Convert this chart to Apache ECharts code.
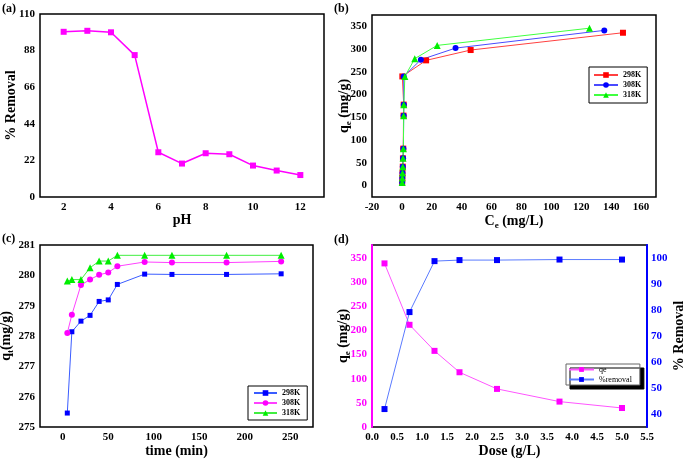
<!DOCTYPE html>
<html>
<head>
<meta charset="utf-8">
<script src="https://cdn.jsdelivr.net/npm/echarts@6/dist/echarts.min.js"></script>
<style>
  body { margin: 0; background: #fff; }
  .p { position: absolute; }
</style>
</head>
<body>
<div id="pa" class="p" style="left:0;top:0;width:330px;height:230px"></div>
<div id="pb" class="p" style="left:330px;top:0;width:355px;height:230px"></div>
<div id="pc" class="p" style="left:0;top:230px;width:330px;height:229px"></div>
<div id="pd" class="p" style="left:330px;top:230px;width:355px;height:229px"></div>
<script>
// (a) pH effect
const phValues = [2, 3, 4, 5, 6, 7, 8, 9, 10, 11, 12]
const removalPh = [99.3, 99.9, 99.0, 85.3, 26.9, 20.1, 26.3, 25.7, 18.9, 15.9, 13.2]

// (b) isotherms
const ce298 = [0.2, 0.3, 0.4, 0.6, 0.7, 0.9, 1.1, 1.2, 0.3, 16.2, 46.0, 147.9]
const qe298 = [6.6, 16.7, 27.7, 41.7, 60.0, 81.3, 153.8, 178.0, 240.0, 275.3, 298.0, 336.0]
const ce308 = [0.2, 0.3, 0.4, 0.6, 0.8, 1.0, 1.2, 1.3, 1.2, 12.7, 35.9, 135.4]
const qe308 = [6.6, 16.7, 27.7, 41.7, 60.0, 81.3, 153.8, 178.0, 240.0, 276.8, 302.3, 341.2]
const ce318 = [0.2, 0.3, 0.4, 0.6, 0.8, 1.0, 1.2, 1.3, 2.0, 8.6, 23.6, 125.5]
const qe318 = [6.6, 16.7, 27.7, 41.7, 60.0, 81.3, 153.8, 178.0, 240.0, 279.0, 308.2, 346.0]

// (c) kinetics
const timeMin = [5, 10, 20, 30, 40, 50, 60, 90, 120, 180, 240]
const qt298 = [275.46, 278.14, 278.49, 278.68, 279.14, 279.19, 279.70, 280.04, 280.03, 280.03, 280.05]
const qt308 = [278.10, 278.70, 279.68, 279.86, 280.02, 280.09, 280.30, 280.44, 280.42, 280.42, 280.46]
const qt318 = [279.81, 279.86, 279.86, 280.25, 280.47, 280.47, 280.66, 280.66, 280.66, 280.66, 280.66]

// (d) dose effect
const dose = [0.25, 0.75, 1.25, 1.75, 2.5, 3.75, 5.0]
const qeDose = [338.9, 211.7, 157.7, 113.4, 78.9, 52.6, 39.4]
const removalDose = [41.9, 79.2, 98.8, 99.2, 99.2, 99.4, 99.4]

const F = 'Liberation Serif'
const lab = { fontFamily: F, fontWeight: 'bold', fontSize: 11, color: '#000' }
const nm = { fontFamily: F, fontWeight: 'bold', fontSize: 14, color: '#000' }
const zip = (xs, ys) => xs.map((x, i) => [x, ys[i]])
const box = { show: true, borderColor: '#000', borderWidth: 1.5, outerBoundsMode: 'none', containLabel: false }
const off = { axisLine: { show: false }, axisTick: { show: false }, splitLine: { show: false }, nameMoveOverlap: false }
const ttl = (t, left, top) => ({ text: t, left, top, padding: 0, textStyle: { fontFamily: F, fontWeight: 'bold', fontSize: 12, color: '#000' } })
const subName = () => ({
  rich: {
    a: { fontFamily: F, fontWeight: 'bold', fontSize: 14, color: '#000' },
    s: { fontFamily: F, fontWeight: 'bold', fontSize: 9, color: '#000', verticalAlign: 'bottom', padding: [8, 0, 0, 0] }
  }
})
const legText = { fontFamily: F, fontWeight: 'bold', fontSize: 8, lineHeight: 10, color: '#000' }

function line(name, data, sym, size, color, lineColor, yIdx) {
  return {
    type: 'line', name, data, symbol: sym, symbolSize: size, yAxisIndex: yIdx || 0,
    itemStyle: { color }, lineStyle: { color: lineColor, width: 1 }
  }
}

// (a)
echarts.init(document.getElementById('pa')).setOption({
  animation: false,
  title: ttl('(a)', 2, 3),
  grid: Object.assign({ left: 40, top: 14, width: 284, height: 183 }, box),
  xAxis: Object.assign({
    type: 'value', min: 1, max: 13, interval: 1, name: 'pH', nameLocation: 'middle', nameGap: 16,
    nameTextStyle: nm,
    axisLabel: Object.assign({ margin: 5, formatter: v => (v % 2 === 0 && v >= 2 && v <= 12) ? v : '' }, lab)
  }, off),
  yAxis: Object.assign({
    type: 'value', min: 0, max: 110, interval: 22, name: '% Removal', nameLocation: 'middle', nameGap: 22,
    nameTextStyle: nm, axisLabel: Object.assign({ margin: 5 }, lab)
  }, off),
  series: [{
    type: 'line', data: zip(phValues, removalPh), symbol: 'rect', symbolSize: 6,
    itemStyle: { color: '#ff00ff' }, lineStyle: { color: '#ff00ff', width: 1.5 }
  }]
})

// (b)
echarts.init(document.getElementById('pb')).setOption({
  animation: false,
  title: ttl('(b)', 4, 3),
  grid: Object.assign({ left: 42, top: 15, width: 284, height: 182 }, box),
  legend: {
    left: 259, top: 67, orient: 'vertical', itemGap: 0, itemWidth: 24, itemHeight: 7,
    padding: [3, 6, 3, 4], borderColor: '#000', borderWidth: 1,
    textStyle: legText,
    data: ['298K', '308K', '318K']
  },
  xAxis: Object.assign({
    type: 'value', min: -20, max: 170, interval: 10, nameLocation: 'middle', nameGap: 16,
    name: '{a|C}{s|e}{a| (mg/L)}', nameTextStyle: subName(),
    axisLabel: Object.assign({ margin: 5, formatter: v => (v % 20 === 0 && v <= 160) ? v : '' }, lab)
  }, off),
  yAxis: Object.assign({
    type: 'value', min: -25, max: 375, interval: 25, nameLocation: 'middle', nameGap: 19,
    name: '{a|q}{s|e}{a| (mg/g)}', nameTextStyle: subName(),
    axisLabel: Object.assign({ margin: 5, formatter: v => (v % 50 === 0 && v >= 0 && v <= 350) ? v : '' }, lab)
  }, off),
  series: [
    line('298K', zip(ce298, qe298), 'rect', 6, '#ff0000', '#ff4040'),
    line('308K', zip(ce308, qe308), 'circle', 6, '#0000ff', '#4a4aff'),
    line('318K', zip(ce318, qe318), 'triangle', 7, '#00ee00', '#40ff40')
  ]
})

// (c)
echarts.init(document.getElementById('pc')).setOption({
  animation: false,
  title: ttl('(c)', 2, 3),
  grid: Object.assign({ left: 40, top: 15, width: 273, height: 182 }, box),
  legend: {
    left: 248, top: 156, orient: 'vertical', itemGap: 0, itemWidth: 23, itemHeight: 7,
    padding: [2, 7, 2, 5], borderColor: '#000', borderWidth: 1,
    textStyle: legText,
    data: ['298K', '308K', '318K']
  },
  xAxis: Object.assign({
    type: 'value', min: -25, max: 275, interval: 25, name: 'time (min)', nameLocation: 'middle', nameGap: 17,
    nameTextStyle: nm,
    axisLabel: Object.assign({ margin: 5, formatter: v => (v % 50 === 0 && v >= 0 && v <= 250) ? v : '' }, lab)
  }, off),
  yAxis: Object.assign({
    type: 'value', min: 275, max: 281, interval: 1, nameLocation: 'middle', nameGap: 25,
    name: '{a|q}{s|t}{a|(mg/g)}', nameTextStyle: subName(),
    axisLabel: Object.assign({ margin: 5 }, lab)
  }, off),
  series: [
    line('298K', zip(timeMin, qt298), 'rect', 5, '#0000ff', '#3a5cff'),
    line('308K', zip(timeMin, qt308), 'circle', 6, '#ff00ff', '#ff40ff'),
    line('318K', zip(timeMin, qt318), 'triangle', 7, '#00ee00', '#40ee40')
  ]
})

// (d)
echarts.init(document.getElementById('pd')).setOption({
  animation: false,
  title: ttl('(d)', 4, 4),
  grid: Object.assign({ left: 42, top: 15, width: 275, height: 182 }, box),
  legend: {
    left: 236, top: 134, orient: 'vertical', itemGap: 1, itemWidth: 25, itemHeight: 6,
    padding: [1, 8, 1, 2], borderColor: '#666', borderWidth: 1, backgroundColor: '#fff',
    shadowColor: '#000', shadowOffsetX: 4, shadowOffsetY: 4, shadowBlur: 0,
    textStyle: { fontFamily: F, fontSize: 8, lineHeight: 9, color: '#000' },
    data: ['qe', '%removal']
  },
  xAxis: Object.assign({
    type: 'value', min: 0, max: 5.5, interval: 0.5, name: 'Dose (g/L)', nameLocation: 'middle', nameGap: 17,
    nameTextStyle: nm,
    axisLabel: Object.assign({ margin: 5, formatter: v => v.toFixed(1) }, lab)
  }, off),
  yAxis: [
    Object.assign({}, off, {
      type: 'value', min: 0, max: 377, interval: 50, nameLocation: 'middle', nameGap: 20,
      name: '{a|q}{s|e}{a| (mg/g)}', nameTextStyle: subName(),
      axisLine: { show: true, lineStyle: { color: '#ff00ff', width: 2 } },
      axisLabel: Object.assign({}, lab, { margin: 5, color: '#ff00ff', formatter: v => (v % 50 === 0 && v <= 350) ? v : '' })
    }),
    Object.assign({}, off, {
      type: 'value', position: 'right', min: 35, max: 105, interval: 5, nameLocation: 'middle', nameGap: 25,
      name: '% Removal', nameRotate: 90, nameTextStyle: nm,
      axisLine: { show: true, lineStyle: { color: '#0000ff', width: 2 } },
      axisLabel: Object.assign({}, lab, { margin: 4, color: '#0000ff', formatter: v => (v % 10 === 0 && v >= 40 && v <= 100) ? v : '' })
    })
  ],
  series: [
    line('qe', zip(dose, qeDose), 'rect', 6, '#ff00ff', '#ff55ff', 0),
    line('%removal', zip(dose, removalDose), 'rect', 6, '#0000ff', '#5a7aff', 1)
  ]
})
</script>
</body>
</html>
